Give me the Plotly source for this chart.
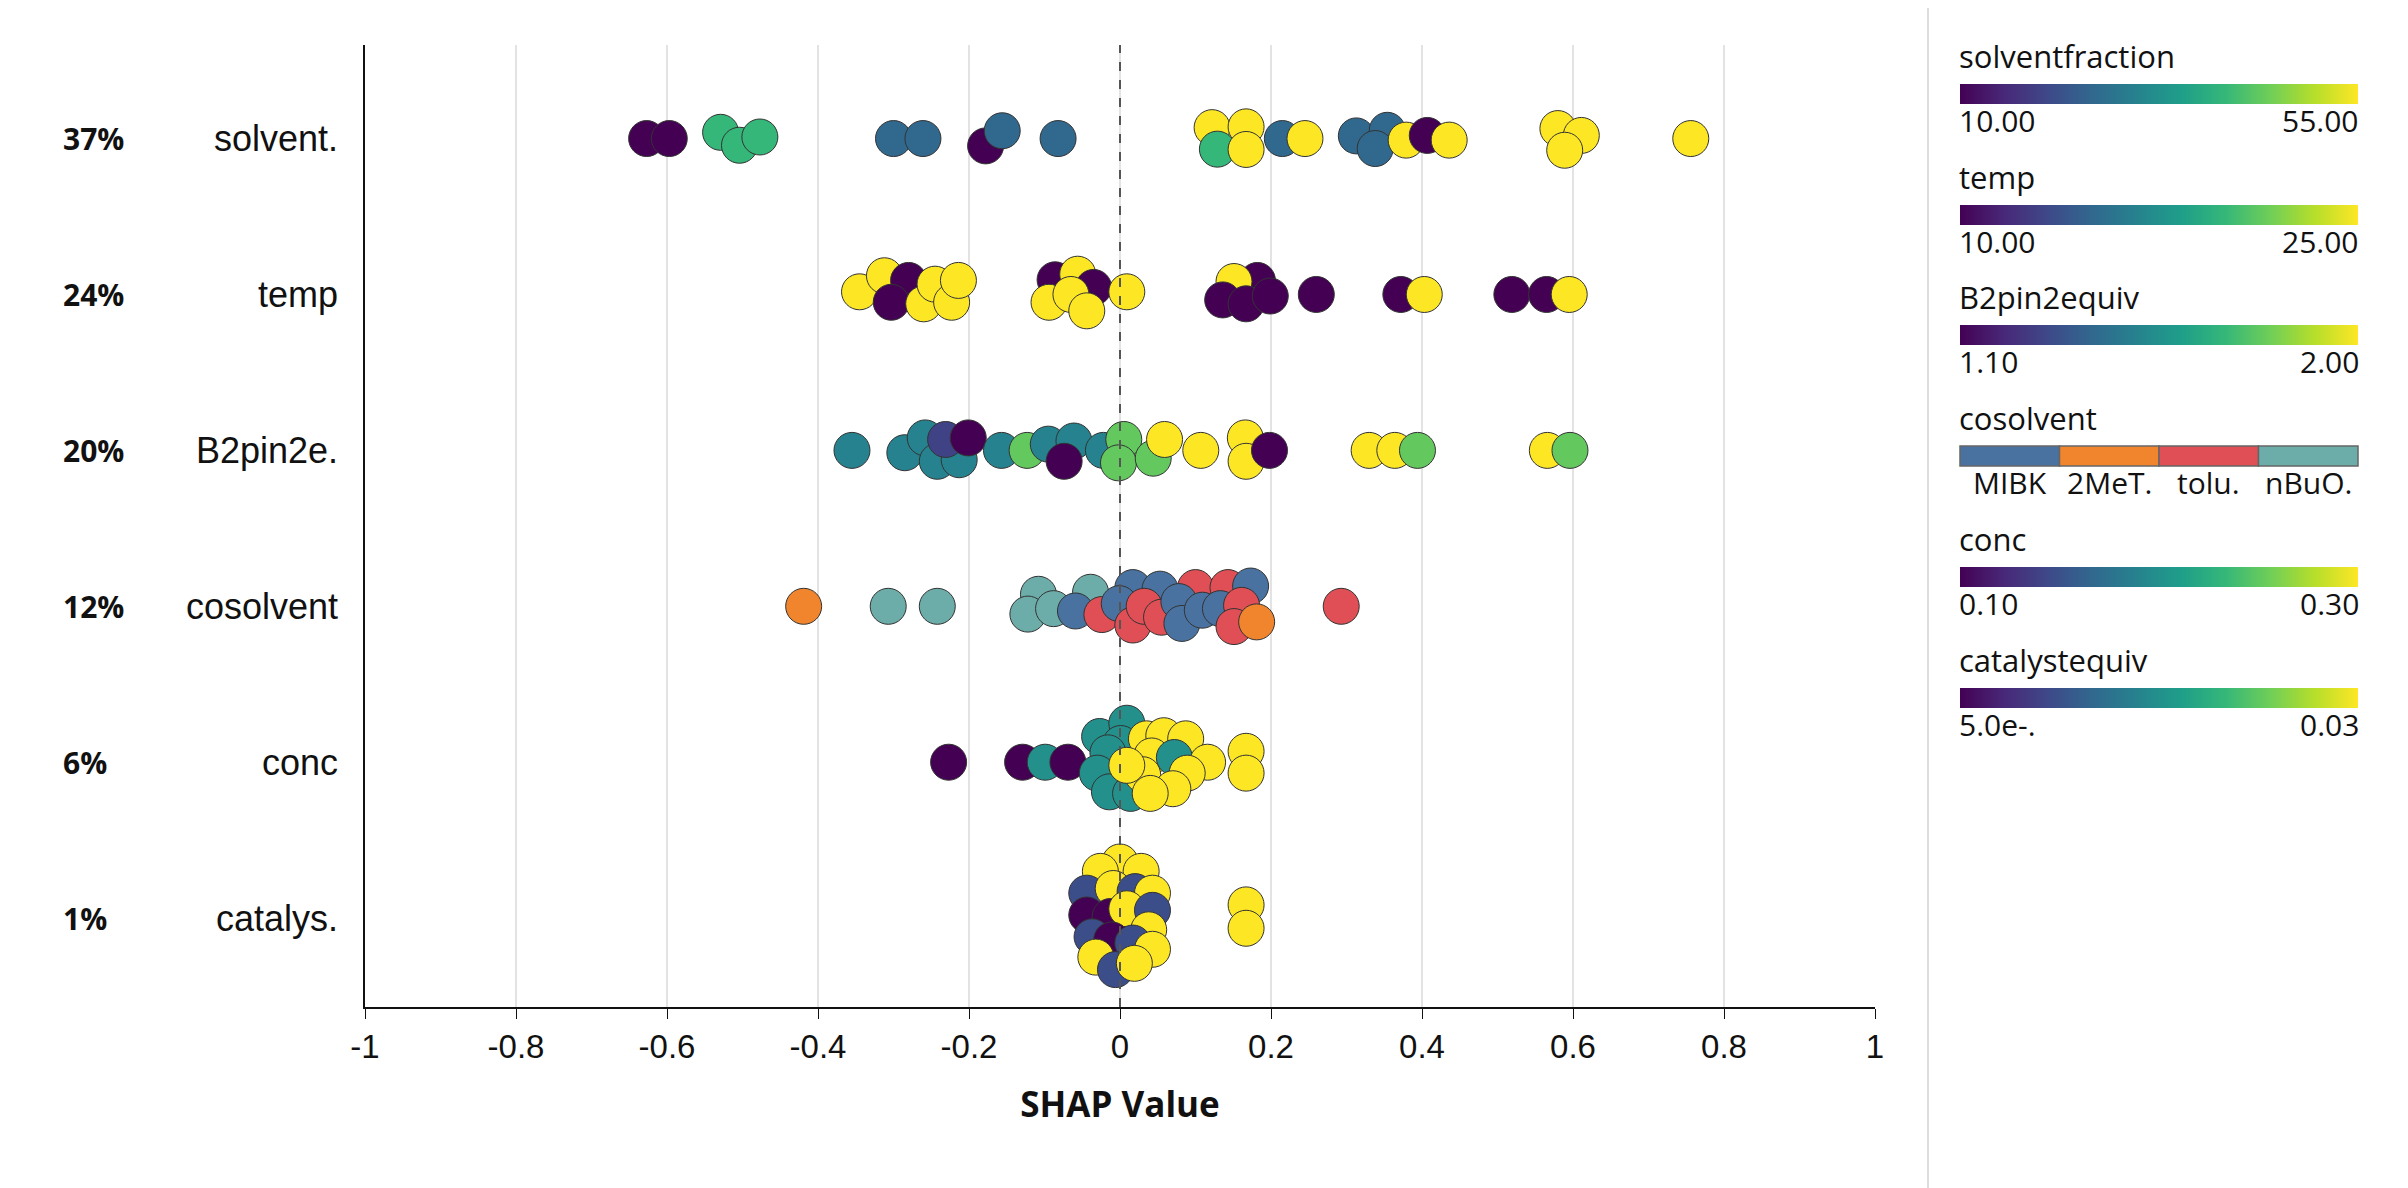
import plotly.graph_objects as go

FEATURES = ["solvent.", "temp", "B2pin2e.", "cosolvent", "conc", "catalys."]
IMPORTANCE = ["37%", "24%", "20%", "12%", "6%", "1%"]
LEGEND_TITLES = ["solventfraction", "temp", "B2pin2equiv", "cosolvent", "conc", "catalystequiv"]
RANGE_LABELS = [("10.00", "55.00"), ("10.00", "25.00"), ("1.10", "2.00"), None, ("0.10", "0.30"), ("5.0e-.", "0.03")]
RANGES = [(10, 55), (10, 25), (1.1, 2.0), None, (0.1, 0.3), (0.005, 0.03)]

solvent_shap = [-0.627, -0.597, -0.529, -0.504, -0.477, -0.300, -0.261, -0.178, -0.156, -0.082,
                0.122, 0.167, 0.129, 0.167, 0.215, 0.245, 0.313, 0.354, 0.338, 0.379, 0.407, 0.436,
                0.580, 0.611, 0.589, 0.756]
solvent_off = [0, 0, 0.04, -0.043, 0.01, 0, 0, -0.047, 0.05, 0,
               0.07, 0.075, -0.068, -0.07, 0, 0, 0.017, 0.053, -0.064, -0.01, 0.02, -0.01,
               0.064, 0.02, -0.075, 0]
solvent_val = [10, 10, 40, 40, 40, 25, 25, 10, 25, 25,
               55, 55, 40, 55, 25, 55, 25, 25, 25, 55, 10, 55,
               55, 55, 55, 55]

temp_shap = [-0.345, -0.312, -0.280, -0.303, -0.260, -0.245, -0.223, -0.214, -0.086, -0.056, -0.035,
             -0.094, -0.065, -0.044, 0.009, 0.182, 0.151, 0.136, 0.167, 0.199, 0.260, 0.372, 0.403,
             0.519, 0.565, 0.595]
temp_off = [0.017, 0.12, 0.09, -0.05, -0.06, 0.066, -0.05, 0.09, 0.094, 0.13, 0.045,
            -0.05, 0, -0.105, 0.017, 0.09, 0.083, -0.035, -0.06, -0.01, 0, 0, 0,
            0, 0, 0]
temp_val = [25, 25, 10, 10, 25, 25, 25, 25, 10, 25, 10,
            25, 25, 25, 25, 10, 25, 10, 10, 10, 10, 10, 25,
            10, 10, 25]

b2_shap = [-0.355, -0.285, -0.258, -0.242, -0.213, -0.231, -0.201, -0.157, -0.123, -0.095, -0.061,
           -0.074, -0.022, 0.005, -0.002, 0.044, 0.059, 0.107, 0.166, 0.167, 0.198, 0.330, 0.364,
           0.394, 0.566, 0.596]
b2_off = [0, -0.015, 0.08, -0.07, -0.06, 0.07, 0.08, 0, 0, 0.04, 0.06,
          -0.07, 0, 0.07, -0.08, -0.05, 0.07, 0, 0.08, -0.07, 0, 0, 0,
          0, 0, 0]
b2_val = [1.5, 1.5, 1.5, 1.5, 1.5, 1.28, 1.1, 1.5, 1.78, 1.5, 1.5,
          1.1, 1.5, 1.78, 1.78, 1.78, 2.0, 2.0, 2.0, 2.0, 1.1, 2.0, 2.0,
          1.78, 2.0, 1.78]

COSOLVENT_CATS = ["MIBK", "2MeT.", "tolu.", "nBuO."]
COSOLVENT_COLORS = ["#4a72a0", "#f0852d", "#df4f55", "#6cada9"]
co_shap = [-0.419, -0.307, -0.242, -0.108, -0.122, -0.088, -0.039, -0.059, -0.024, 0.017, -0.001,
           0.053, 0.017, 0.032, 0.055, 0.100, 0.143, 0.173, 0.078, 0.082, 0.109, 0.133, 0.161,
           0.151, 0.181, 0.293]
co_off = [0, 0, 0, 0.077, -0.05, -0.015, 0.09, -0.03, -0.053, 0.12, 0.017,
          0.11, -0.12, 0, -0.07, 0.12, 0.12, 0.13, 0.03, -0.11, -0.025, -0.015, 0.006,
          -0.13, -0.1, 0]
co_cat = ["2MeT.", "nBuO.", "nBuO.", "nBuO.", "nBuO.", "nBuO.", "nBuO.", "MIBK", "tolu.", "MIBK", "MIBK",
          "MIBK", "tolu.", "tolu.", "tolu.", "tolu.", "tolu.", "MIBK", "MIBK", "MIBK", "MIBK", "MIBK", "tolu.",
          "tolu.", "2MeT.", "tolu."]

conc_shap = [-0.227, -0.129, -0.099, -0.069, -0.027, 0.009, 0.001, -0.016, -0.030, -0.014, 0.014,
             0.035, 0.058, 0.087, 0.042, 0.072, 0.116, 0.030, 0.089, 0.070, 0.040, 0.009, 0.167, 0.167]
conc_off = [0, 0, 0, 0, 0.165, 0.25, 0.12, 0.06, -0.07, -0.19, -0.2,
            0.15, 0.17, 0.15, 0.04, 0.03, 0, -0.08, -0.07, -0.17, -0.2, -0.02, 0.07, -0.07]
conc_val = [0.1, 0.1, 0.2, 0.1, 0.2, 0.2, 0.2, 0.2, 0.2, 0.2, 0.2,
            0.3, 0.3, 0.3, 0.3, 0.2, 0.3, 0.3, 0.3, 0.3, 0.3, 0.3, 0.3, 0.3]

cat_shap = [0.0, -0.026, 0.028, -0.044, -0.009, 0.020, 0.043, -0.044, -0.013, 0.009, 0.043,
            0.038, -0.037, -0.011, 0.017, 0.043, -0.032, -0.006, 0.019, 0.167, 0.167]
cat_off = [0.36, 0.3, 0.3, 0.16, 0.19, 0.17, 0.16, 0.02, 0.01, 0.06, 0.05,
           -0.075, -0.12, -0.14, -0.16, -0.2, -0.25, -0.33, -0.29, 0.085, -0.065]
cat_val = [0.03, 0.03, 0.03, 0.011, 0.03, 0.011, 0.03, 0.005, 0.005, 0.03, 0.011,
           0.03, 0.011, 0.005, 0.011, 0.03, 0.03, 0.011, 0.03, 0.03, 0.03]

SHAP = [solvent_shap, temp_shap, b2_shap, co_shap, conc_shap, cat_shap]
OFFS = [solvent_off, temp_off, b2_off, co_off, conc_off, cat_off]
VALS = [solvent_val, temp_val, b2_val, None, conc_val, cat_val]

X_TICKS = [-1, -0.8, -0.6, -0.4, -0.2, 0, 0.2, 0.4, 0.6, 0.8, 1]

# plot area in pixels
W, H = 2408, 1188
L, R, T, B = 357, 541, 37, 189
PH = H - T - B
PW = W - L - R


def py(px):
    return (H - B - px) / PH


def pxx(px):
    return (px - L) / PW


fig = go.Figure()
bar_centers = [86, 207, 327, 448, 569, 690]
bar_x0, bar_x1 = 1952, 2350

for i, name in enumerate(FEATURES):
    yrow = len(FEATURES) - 1 - i
    ys = [yrow + o for o in OFFS[i]]
    if VALS[i] is None:
        colors = [COSOLVENT_COLORS[COSOLVENT_CATS.index(c)] for c in co_cat]
        marker = dict(size=36, color=colors, line=dict(color="#333", width=1), opacity=1)
    else:
        lo, hi = RANGES[i]
        marker = dict(
            size=36, color=VALS[i], cmin=lo, cmax=hi, colorscale="Viridis",
            line=dict(color="#333", width=1), opacity=1, showscale=True,
            colorbar=dict(
                orientation="h", x=pxx(bar_x0), xanchor="left", y=py(bar_centers[i]), yanchor="middle",
                lenmode="pixels", len=bar_x1 - bar_x0, thicknessmode="pixels", thickness=20,
                xpad=0, ypad=0, outlinewidth=0, showticklabels=False, ticks="",
            ),
        )
    fig.add_trace(go.Scatter(x=SHAP[i], y=ys, mode="markers", marker=marker,
                             name=name, showlegend=False, hoverinfo="x"))

    fig.add_annotation(x=-0.201, y=yrow, xref="paper", yref="y", text=f"<b>{IMPORTANCE[i]}</b>",
                       showarrow=False, font=dict(family="Open Sans", size=30, color="#111"))

    # legend titles and range labels
    fig.add_annotation(x=pxx(bar_x0 - 3), y=py(bar_centers[i] - 38), xref="paper", yref="paper",
                       text=LEGEND_TITLES[i], showarrow=False, xanchor="left", yanchor="middle",
                       font=dict(family="Open Sans", size=31, color="#111"))
    if RANGE_LABELS[i] is not None:
        lo_t, hi_t = RANGE_LABELS[i]
        for t, xp, anc in [(lo_t, bar_x0 - 3, "left"), (hi_t, bar_x1 + 3, "right")]:
            fig.add_annotation(x=pxx(xp), y=py(bar_centers[i] + 26), xref="paper", yref="paper",
                               text=t, showarrow=False, xanchor=anc, yanchor="middle",
                               font=dict(family="Open Sans", size=30, color="#111"))

# categorical legend for cosolvent
seg = (bar_x1 - bar_x0) / len(COSOLVENT_CATS)
for k, (cat, col) in enumerate(zip(COSOLVENT_CATS, COSOLVENT_COLORS)):
    x0 = bar_x0 + k * seg
    fig.add_shape(type="rect", xref="paper", yref="paper", x0=pxx(x0), x1=pxx(x0 + seg),
                  y0=py(bar_centers[3] + 10), y1=py(bar_centers[3] - 10),
                  fillcolor=col, line=dict(color="#666", width=1.5))
    fig.add_annotation(x=pxx(x0 + seg / 2), y=py(bar_centers[3] + 26), xref="paper", yref="paper",
                       text=cat, showarrow=False, xanchor="center", yanchor="middle",
                       font=dict(family="Open Sans", size=30, color="#111"))

# separator line
fig.add_shape(type="line", xref="paper", yref="paper", x0=pxx(1920), x1=pxx(1920),
              y0=py(H), y1=py(0), line=dict(color="#dddddd", width=2))
# zero line
fig.add_shape(type="line", xref="x", yref="paper", x0=0, x1=0, y0=0, y1=1,
              line=dict(color="#555", width=2, dash="dash"))

fig.update_layout(
    width=W, height=H,
    margin=dict(l=L, r=R, t=T, b=B),
    plot_bgcolor="white", paper_bgcolor="white",
    font=dict(family="Liberation Sans", size=34, color="#111"),
    xaxis=dict(range=[-1, 1], tickvals=X_TICKS, ticktext=[f"{v:g}" for v in X_TICKS],
               showgrid=True, gridcolor="#e3e3e3", gridwidth=1.5, zeroline=False,
               showline=True, linecolor="#111", linewidth=1.5, ticks="outside", ticklen=10,
               tickcolor="#111", tickfont=dict(size=33),
               title=dict(text="<b>SHAP Value</b>", font=dict(family="Open Sans", size=35), standoff=28)),
    yaxis=dict(range=[-0.57, 5.6], tickvals=list(range(len(FEATURES) - 1, -1, -1)), ticktext=FEATURES,
               showgrid=False, zeroline=False, showline=True, linecolor="#111", linewidth=1.5,
               ticks="", ticklabelstandoff=18, tickfont=dict(size=36)),
)

fig.write_html("out.html")
